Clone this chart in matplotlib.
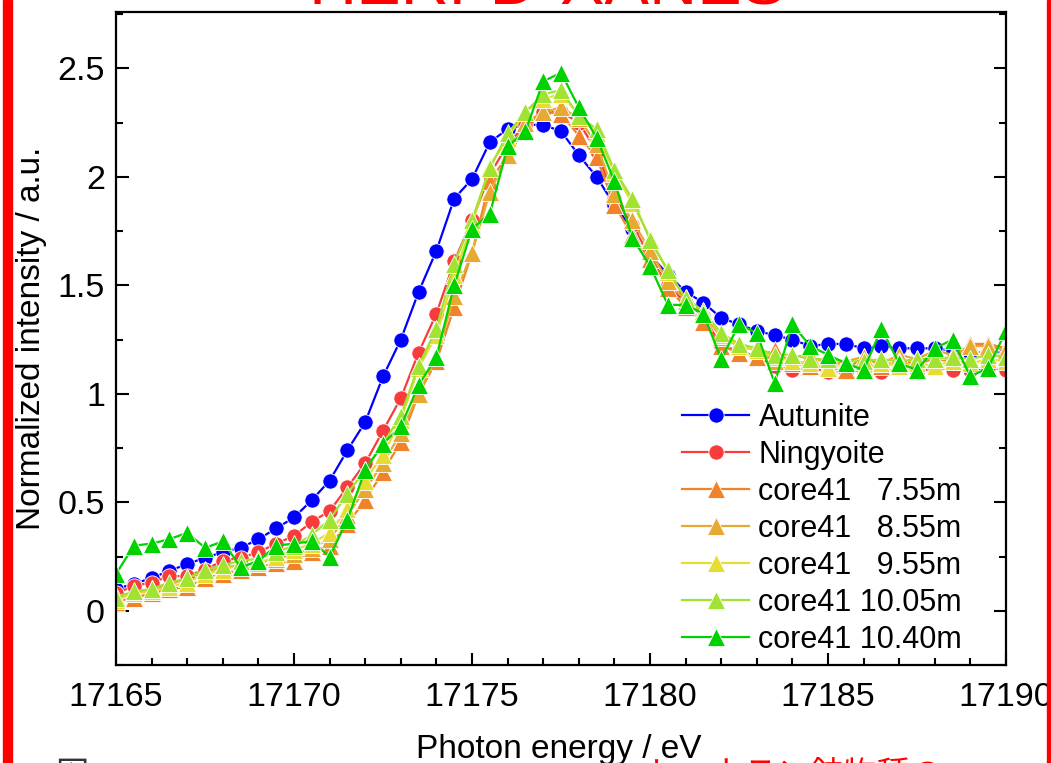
import numpy as np
import matplotlib
matplotlib.use("Agg")
import matplotlib.pyplot as plt
from matplotlib.patches import Rectangle
from matplotlib.ticker import MultipleLocator, FuncFormatter

plt.rcParams["font.family"] = ["Liberation Sans", "DejaVu Sans"]

# photon energy grid, 0.5 eV steps
energy = np.arange(17165.0, 17190.01, 0.5)

autunite = [0.10, 0.125, 0.15, 0.185, 0.215, 0.245, 0.27, 0.29, 0.33, 0.38,
            0.43, 0.51, 0.60, 0.74, 0.87, 1.08, 1.25, 1.47, 1.66, 1.90,
            1.99, 2.16, 2.22, 2.24, 2.24, 2.21, 2.10, 2.00, 1.87, 1.76,
            1.64, 1.55, 1.47, 1.42, 1.35, 1.32, 1.29, 1.27, 1.25, 1.22,
            1.23, 1.23, 1.21, 1.22, 1.21, 1.21, 1.21, 1.20, 1.19, 1.19, 1.19]
ningyoite = [0.08, 0.115, 0.13, 0.16, 0.16, 0.19, 0.23, 0.245, 0.27, 0.31,
             0.345, 0.41, 0.46, 0.57, 0.68, 0.83, 0.98, 1.19, 1.37, 1.61,
             1.80, 2.01, 2.15, 2.24, 2.30, 2.30, 2.25, 2.12, 1.90, 1.78,
             1.63, 1.50, 1.42, 1.36, 1.22, 1.20, 1.17, 1.13, 1.11, 1.12,
             1.10, 1.10, 1.11, 1.10, 1.12, 1.10, 1.12, 1.11, 1.11, 1.12, 1.11]
core_755 = [0.04, 0.06, 0.08, 0.10, 0.11, 0.15, 0.17, 0.19, 0.20, 0.22,
            0.23, 0.27, 0.30, 0.40, 0.51, 0.64, 0.78, 1.00, 1.15, 1.40,
            1.65, 1.98, 2.10, 2.22, 2.30, 2.29, 2.19, 2.09, 1.87, 1.73,
            1.62, 1.49, 1.40, 1.33, 1.22, 1.19, 1.17, 1.20, 1.14, 1.13,
            1.12, 1.11, 1.17, 1.13, 1.15, 1.14, 1.16, 1.15, 1.23, 1.23, 1.21]
core_855 = [0.07, 0.08, 0.10, 0.12, 0.15, 0.18, 0.20, 0.21, 0.22, 0.24,
            0.26, 0.29, 0.33, 0.44, 0.56, 0.68, 0.82, 1.00, 1.17, 1.45,
            1.65, 1.93, 2.10, 2.25, 2.30, 2.32, 2.27, 2.15, 1.92, 1.80,
            1.66, 1.52, 1.43, 1.37, 1.26, 1.22, 1.20, 1.15, 1.17, 1.18,
            1.13, 1.15, 1.17, 1.14, 1.18, 1.16, 1.20, 1.18, 1.22, 1.22, 1.20]
core_955 = [0.05, 0.08, 0.09, 0.11, 0.13, 0.17, 0.19, 0.21, 0.22, 0.25,
            0.28, 0.31, 0.36, 0.47, 0.60, 0.72, 0.88, 1.12, 1.27, 1.55,
            1.78, 2.05, 2.18, 2.30, 2.36, 2.38, 2.29, 2.20, 2.02, 1.88,
            1.72, 1.56, 1.44, 1.38, 1.27, 1.22, 1.20, 1.17, 1.15, 1.14,
            1.12, 1.14, 1.12, 1.14, 1.13, 1.14, 1.13, 1.15, 1.14, 1.16, 1.15]
core_1005 = [0.06, 0.09, 0.10, 0.13, 0.15, 0.19, 0.21, 0.23, 0.24, 0.27,
             0.30, 0.35, 0.42, 0.54, 0.65, 0.77, 0.90, 1.13, 1.30, 1.60,
             1.80, 2.04, 2.20, 2.30, 2.38, 2.40, 2.28, 2.22, 2.03, 1.90,
             1.71, 1.57, 1.44, 1.38, 1.28, 1.23, 1.21, 1.18, 1.18, 1.16,
             1.16, 1.15, 1.15, 1.16, 1.15, 1.16, 1.16, 1.17, 1.16, 1.18, 1.17]
core_1040 = [0.17, 0.30, 0.31, 0.33, 0.36, 0.29, 0.32, 0.20, 0.23, 0.30,
             0.31, 0.32, 0.25, 0.42, 0.65, 0.77, 0.85, 1.04, 1.17, 1.50,
             1.76, 1.83, 2.14, 2.21, 2.44, 2.48, 2.32, 2.18, 1.98, 1.72,
             1.59, 1.41, 1.41, 1.37, 1.16, 1.32, 1.28, 1.05, 1.32, 1.22,
             1.18, 1.14, 1.11, 1.30, 1.14, 1.11, 1.21, 1.25, 1.08, 1.12, 1.29]

series = [
    ("Autunite", autunite, "o", "#0000ff"),
    ("Ningyoite", ningyoite, "o", "#f83c3c"),
    ("core41   7.55m", core_755, "^", "#f0822a"),
    ("core41   8.55m", core_855, "^", "#e6aa32"),
    ("core41   9.55m", core_955, "^", "#e6dc32"),
    ("core41 10.05m", core_1005, "^", "#a2e232"),
    ("core41 10.40m", core_1040, "^", "#00d200"),
]

fig = plt.figure(figsize=(10.51, 7.63), dpi=100)
ax = fig.add_axes([0.1104, 0.1284, 0.8468, 0.8559])

for label, vals, mk, col in series:
    ax.plot(energy, vals, marker=mk, color=col, lw=1.6,
            ms=11 if mk == "o" else 12.5, mec="white", mew=0.6,
            label=label)

ax.set_xlim(17165, 17190)
ax.set_ylim(-0.25, 2.76)
ax.xaxis.set_major_locator(MultipleLocator(5))
ax.xaxis.set_minor_locator(MultipleLocator(1))
ax.yaxis.set_major_locator(MultipleLocator(0.5))
ax.yaxis.set_minor_locator(MultipleLocator(0.25))
ax.xaxis.set_major_formatter(FuncFormatter(lambda v, p: f"{v:.0f}"))
ax.yaxis.set_major_formatter(FuncFormatter(lambda v, p: f"{v:g}"))
ax.tick_params(which="both", direction="in", width=1.5, right=True, top=False,
               labelsize=24.5)
ax.tick_params(which="major", length=9)
ax.tick_params(which="minor", length=5)
ax.tick_params(axis="y", pad=8)
ax.tick_params(axis="x", pad=12)
for sp in ax.spines.values():
    sp.set_linewidth(1.6)

ax.set_xlabel("Photon energy / eV", fontsize=24)
ax.set_ylabel("Normalized intensity / a.u.", fontsize=24)
ax.xaxis.set_label_coords(0.497, -0.105)
ax.yaxis.set_label_coords(-0.078, 0.5)

leg = ax.legend(loc="upper left", bbox_to_anchor=(0.636, 0.402), frameon=False,
                fontsize=22, numpoints=1, handlelength=2.2, handletextpad=0.3,
                labelspacing=0.23, borderpad=0, borderaxespad=0)

# title and caption lines, mostly outside the canvas
fig.text(0.521, 0.9935, "HERFD-XANES", color="red", fontsize=48,
         ha="center", va="baseline")
fig.text(0.052, 0.006, "図", color="#333333", fontsize=24, va="top",
         family=["Noto Sans CJK JP", "DejaVu Sans"])
fig.text(0.612, 0.006, "ト・ウラン鉱物種の", color="red", fontsize=24,
         va="top", family=["Noto Sans CJK JP", "DejaVu Sans"])

# red frame bars on both sides
fig.patches.append(Rectangle((3 / 1051, 0), 9 / 1051, 1, color="red",
                             transform=fig.transFigure, figure=fig, zorder=5))
fig.patches.append(Rectangle((1047 / 1051, 0), 6 / 1051, 1, color="red",
                             transform=fig.transFigure, figure=fig, zorder=5))

fig.savefig("out.png", dpi=100)
